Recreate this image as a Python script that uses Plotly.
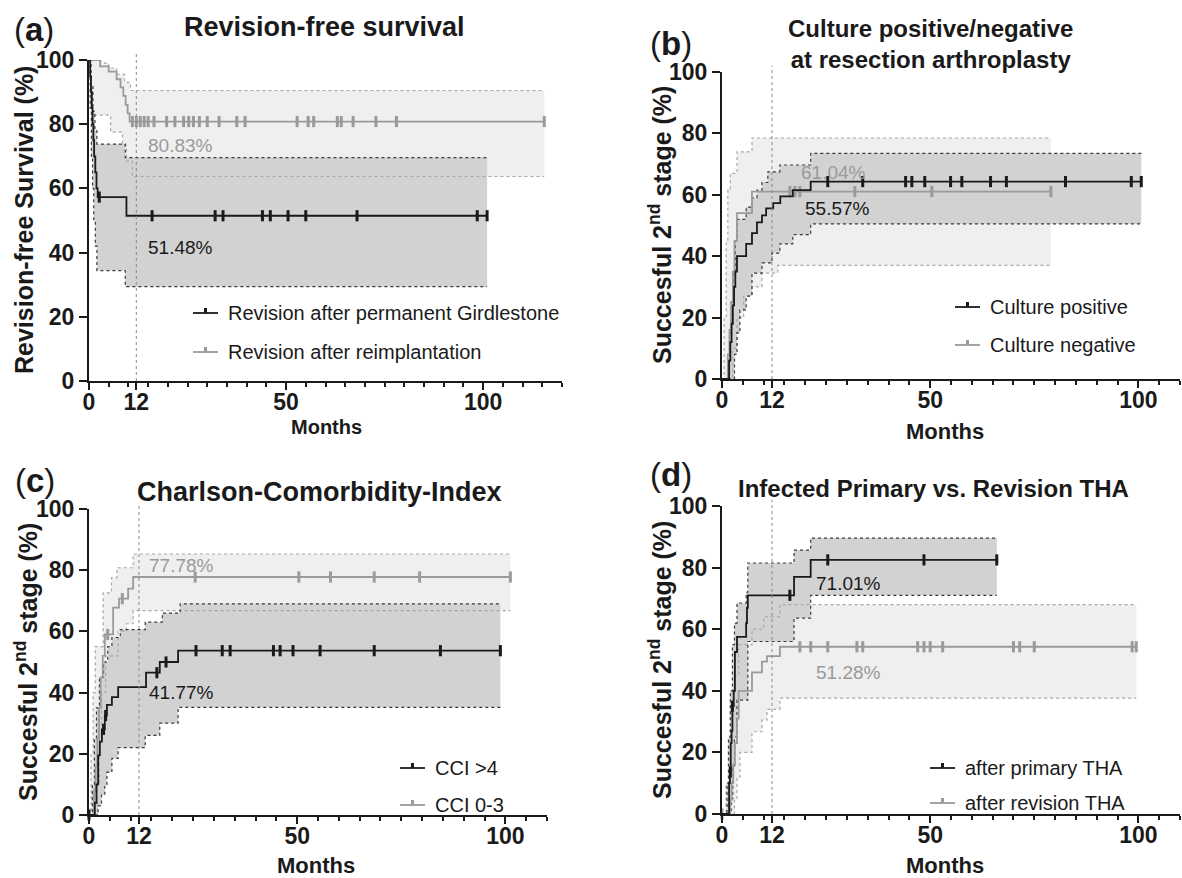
import plotly.graph_objects as go

W, H = 1182, 878
FONT = "Liberation Sans, Arial, Helvetica, sans-serif"
BLACK = "#1a1a1a"
GRAY = "#9a9a9a"
DARK_FILL = "#d2d2d2"
LIGHT_FILL = "#efefef"

# ---------------- Panel (a) Revision-free survival ----------------
a_black_t = [0, 0.3, 0.5, 0.7, 0.9, 1.1, 1.3, 1.6, 1.9, 2.2, 9.5]
a_black_s = [100, 95, 90, 85, 80, 75, 70, 65, 60, 57.3, 51.48]
a_black_end = 101
a_black_cens = [2.6, 16, 32, 34, 44, 46, 50.5, 55, 68, 98.5, 101]
a_black_hi_t = [0, 0.5, 1.0, 1.5, 2.0, 9.2]
a_black_hi_s = [100, 92, 84, 78, 73.8, 69.6]
a_black_lo_t = [0, 0.3, 0.6, 0.9, 1.2, 1.6, 2.0, 9.2]
a_black_lo_s = [100, 85, 70, 60, 50, 42, 34.4, 29.4]

a_gray_t = [0, 2.8, 5, 7, 8, 8.7, 9.3, 9.8, 10.3]
a_gray_s = [100, 98, 96.4, 94, 91.5, 88.8, 86, 83.4, 80.83]
a_gray_end = 115.5
a_gray_cens = [11, 12, 13, 14, 15, 16.5, 19.7, 21.8, 24, 25.3, 26.5, 28, 30, 33,
               37.5, 39.6, 52.8, 55.6, 57, 63, 64, 67, 72.8, 78, 115.5]
a_gray_hi_t = [0, 3, 5, 7, 9, 10.5]
a_gray_hi_s = [100, 99, 97.5, 95.5, 93, 90.5]
a_gray_lo_t = [0, 0.5, 0.9, 5.5, 8.5, 9.5, 11]
a_gray_lo_s = [100, 90, 82.8, 77.5, 73.5, 68.5, 63.7]

# ---------------- Panel (b) Culture positive / negative ----------------
b_black_t = [0, 1.4, 1.7, 2.0, 2.3, 2.6, 2.9, 3.2, 3.6, 5.8, 7.2, 8.4, 9.6, 10.6, 12.3, 14.0, 17.0, 21.3]
b_black_s = [0, 0, 6, 12, 18, 24, 30, 35, 40, 44, 47.5, 51, 53.3, 55.57, 57.3, 59.5, 61.5, 64.3]
b_black_end = 100.7
b_black_cens = [25.4, 33.8, 44.1, 45.6, 48.7, 54.9, 57.6, 64.5, 68.3, 82.5, 98.3, 100.7]
b_black_hi_t = [0, 1.4, 1.8, 2.2, 2.7, 3.2, 3.6, 5.8, 7.2, 8.4, 9.6, 11.0, 13.9, 21.3]
b_black_hi_s = [0, 0, 15, 25, 35, 45, 52, 56, 59, 61.5, 64, 67.5, 69.7, 73.5]
b_black_lo_t = [0, 2.0, 3.0, 3.6, 4.3, 5.8, 7.2, 9.6, 12.0, 13.9, 17.0, 21.3]
b_black_lo_s = [0, 0, 8, 15, 22.5, 27, 34.5, 37.8, 41, 44, 47, 50.5]

b_gray_t = [0, 1.0, 1.4, 1.8, 2.2, 2.6, 3.0, 3.6, 7.2]
b_gray_s = [0, 0, 8, 16, 25, 35, 45, 54, 61.04]
b_gray_end = 79
b_gray_cens = [16.3, 17.5, 18.7, 31.9, 50.4, 79]
b_gray_hi_t = [0, 0.5, 1.0, 1.4, 2.0, 3.6, 7.2]
b_gray_hi_s = [0, 20, 45, 62, 67, 74, 78.5]
b_gray_lo_t = [0, 1.2, 2.5, 3.6, 5.2, 7.2, 9.6, 13.4]
b_gray_lo_s = [0, 0, 10, 20, 27, 30, 34.5, 37]

# ---------------- Panel (c) Charlson-Comorbidity-Index ----------------
c_black_t = [0, 1.4, 1.8, 2.2, 2.6, 3.1, 3.8, 4.3, 5.5, 7.0, 13.7, 17.0, 21.4]
c_black_s = [0, 4, 10, 19.5, 24, 28, 32.5, 36, 38.5, 41.77, 46.5, 50, 53.7]
c_black_end = 98.8
c_black_cens = [0, 3.5, 4.0, 16.3, 18.5, 25.7, 32, 33.9, 44.3, 45.9, 49, 55.5, 68.5, 84.4, 98.8]
c_black_hi_t = [0, 0.8, 1.3, 1.8, 2.5, 3.5, 4.5, 5.5, 7.5, 13.5, 17.6, 21.9]
c_black_hi_s = [0, 10, 25, 35, 45, 50, 55, 58, 60.6, 63, 66, 69]
c_black_lo_t = [0, 1.5, 2.2, 3.0, 3.8, 4.3, 5.5, 7.0, 13.5, 17.0, 21.4]
c_black_lo_s = [0, 0, 3, 6.5, 10, 14, 18.5, 22, 26, 30, 35.2]

c_gray_t = [0, 0.8, 1.2, 1.6, 2.0, 2.4, 2.8, 3.3, 3.8, 5.8, 7.2, 9.4, 10.6]
c_gray_s = [0, 0, 8, 16, 25, 35, 45, 52, 59, 67.8, 70.7, 74, 77.78]
c_gray_end = 101.2
c_gray_cens = [4.5, 8.0, 25.5, 50.4, 58, 68.5, 79.4, 101.2]
c_gray_hi_t = [0, 0.5, 1.0, 1.5, 3.4, 5.4, 6.7, 10.6]
c_gray_hi_s = [0, 20, 40, 55, 72.6, 77.5, 80.8, 85.3]
c_gray_lo_t = [0, 1.5, 2.0, 2.5, 3.0, 4.0, 7.0, 9.0, 10.6]
c_gray_lo_s = [0, 0, 10, 25, 40, 52, 60, 62.5, 66.8]

# ---------------- Panel (d) Infected Primary vs. Revision THA ----------------
d_black_t = [0, 1.5, 1.7, 1.9, 2.1, 2.3, 2.5, 2.8, 3.1, 3.6, 5.8, 6.0, 6.2, 17.3, 21.3]
d_black_s = [0, 0, 10, 13.6, 23, 27, 35, 40, 52.6, 57.5, 62, 66.9, 71.01, 77, 82.5]
d_black_end = 66
d_black_cens = [2.0, 2.5, 16.3, 25.4, 48.5, 66]
d_black_hi_t = [0, 1.2, 1.6, 2.0, 2.5, 3.0, 3.6, 5.8, 6.2, 17.3, 21.3]
d_black_hi_s = [0, 10, 25, 40, 55, 62, 68.5, 72, 81.5, 85.7, 89.6]
d_black_lo_t = [0, 1.8, 2.2, 2.6, 3.0, 3.6, 6.2, 17.3, 21.3]
d_black_lo_s = [0, 0, 5, 15, 25, 37, 56, 63.6, 71]

d_gray_t = [0, 1.5, 1.9, 2.3, 2.7, 3.1, 3.6, 4.0, 7.2, 9.6, 10.8, 13.9]
d_gray_s = [0, 0, 4.5, 10, 16, 23, 31, 40, 46, 49.5, 51.28, 54.3]
d_gray_end = 99.5
d_gray_cens = [0, 18.7, 21.3, 25.4, 32.4, 33.8, 47, 48.5, 50, 53, 70, 71.5, 75, 98.5, 99.5]
d_gray_hi_t = [0, 1.0, 1.5, 2.0, 3.0, 4.0, 7.2, 10.0, 13.9]
d_gray_hi_s = [0, 10, 25, 35, 45, 55, 60, 64, 68]
d_gray_lo_t = [0, 2.5, 3.0, 3.6, 4.3, 7.2, 9.6, 10.8, 13.9]
d_gray_lo_s = [0, 0, 5, 12, 20, 26.7, 30.5, 34, 37.6]

x_tickvals = [0, 12, 50, 100]
x_ticktext = ["0", "12", "50", "100"]
y_tickvals = [0, 20, 40, 60, 80, 100]

titles = ["Revision-free survival",
          "Culture positive/negative<br>at resection arthroplasty",
          "Charlson-Comorbidity-Index",
          "Infected Primary vs. Revision THA"]
letters = ["a", "b", "c", "d"]
legend_labels = [["Revision after permanent Girdlestone", "Revision after reimplantation"],
                 ["Culture positive", "Culture negative"],
                 ["CCI >4", "CCI 0-3"],
                 ["after primary THA", "after revision THA"]]
y_titles = ["Revision-free Survival (%)", "Succesful 2<sup>nd</sup> stage (%)",
            "Succesful 2<sup>nd</sup> stage (%)", "Succesful 2<sup>nd</sup> stage (%)"]
pct_labels = [("80.83%", "51.48%"), ("61.04%", "55.57%"), ("77.78%", "41.77%"), ("51.28%", "71.01%")]


def steps(t, s, end):
    xs, ys = [], []
    for i in range(len(t)):
        if i > 0:
            xs.append(t[i]); ys.append(s[i - 1])
        xs.append(t[i]); ys.append(s[i])
    xs.append(end); ys.append(s[-1])
    return xs, ys


def value_at(t, s, x):
    v = s[0]
    for ti, si in zip(t, s):
        if ti <= x:
            v = si
    return v


panels = [
    dict(black=(a_black_t, a_black_s, a_black_end, a_black_cens, a_black_hi_t, a_black_hi_s, a_black_lo_t, a_black_lo_s),
         gray=(a_gray_t, a_gray_s, a_gray_end, a_gray_cens, a_gray_hi_t, a_gray_hi_s, a_gray_lo_t, a_gray_lo_s)),
    dict(black=(b_black_t, b_black_s, b_black_end, b_black_cens, b_black_hi_t, b_black_hi_s, b_black_lo_t, b_black_lo_s),
         gray=(b_gray_t, b_gray_s, b_gray_end, b_gray_cens, b_gray_hi_t, b_gray_hi_s, b_gray_lo_t, b_gray_lo_s)),
    dict(black=(c_black_t, c_black_s, c_black_end, c_black_cens, c_black_hi_t, c_black_hi_s, c_black_lo_t, c_black_lo_s),
         gray=(c_gray_t, c_gray_s, c_gray_end, c_gray_cens, c_gray_hi_t, c_gray_hi_s, c_gray_lo_t, c_gray_lo_s)),
    dict(black=(d_black_t, d_black_s, d_black_end, d_black_cens, d_black_hi_t, d_black_hi_s, d_black_lo_t, d_black_lo_s),
         gray=(d_gray_t, d_gray_s, d_gray_end, d_gray_cens, d_gray_hi_t, d_gray_hi_s, d_gray_lo_t, d_gray_lo_s)),
]

# layout geometry in pixels (left, right, top, bottom) and x-range
geo = [
    dict(l=89, r=562, t=60, b=381, xr=120),
    dict(l=722, r=1180, t=72, b=379, xr=110),
    dict(l=89, r=547, t=509, b=815, xr=110),
    dict(l=722, r=1180, t=506, b=814, xr=110),
]
# annotation pixel positions
title_pos = [(325, 27), (930, 44), (319, 492), (933, 488)]
title_size = [27, 24, 27, 24]
letter_pos = [(34, 29), (671, 43), (35, 480), (671, 474)]
ytitle_pos = [(24, 220), (660, 225), (26, 662), (660, 660)]
xtitle_pos = [(326, 427), (945, 432), (316, 865), (945, 865)]
pct_pos = [((180, 146), (180, 248)), ((833, 173), (837, 208)),
           ((181, 565), (181, 692)), ((848, 672), (848, 583))]
legend_pos = [(193, 313, 352), (955, 307, 345), (400, 768, 805), (930, 768, 803)]

fig = go.Figure()
layout = dict(width=W, height=H, margin=dict(l=0, r=0, t=0, b=0, pad=0), autosize=False,
              paper_bgcolor="white", plot_bgcolor="rgba(0,0,0,0)", showlegend=False,
              font=dict(family=FONT, color=BLACK))
annotations = []
shapes = []


def px(x):
    return x / W


def py(y):
    return 1 - y / H


for i, (p, g) in enumerate(zip(panels, geo)):
    n = "" if i == 0 else str(i + 1)
    xa, ya = "x" + n, "y" + n
    # fills
    for key, fill in (("gray", LIGHT_FILL), ("black", DARK_FILL)):
        t, s, end, cens, ht, hs, lt, ls = p[key]
        ux, uy = steps(ht, hs, end)
        lx, ly = steps(lt, ls, end)
        fig.add_trace(go.Scatter(x=ux + lx[::-1], y=uy + ly[::-1], fill="toself", fillcolor=fill,
                                 mode="none", xaxis=xa, yaxis=ya, hoverinfo="skip"))
    # dotted borders
    for key, col in (("gray", "#a8a8a8"), ("black", "#3a3a3a")):
        t, s, end, cens, ht, hs, lt, ls = p[key]
        for bt, bs in ((ht, hs), (lt, ls)):
            bx, by = steps(bt, bs, end)
            fig.add_trace(go.Scatter(x=bx, y=by, mode="lines", line=dict(color=col, width=1.2, dash="dot"),
                                     xaxis=xa, yaxis=ya, hoverinfo="skip", cliponaxis=False))
    # survival lines + censor marks
    for key, col in (("gray", GRAY), ("black", BLACK)):
        t, s, end, cens, ht, hs, lt, ls = p[key]
        sx, sy = steps(t, s, end)
        fig.add_trace(go.Scatter(x=sx, y=sy, mode="lines", line=dict(color=col, width=1.8),
                                 xaxis=xa, yaxis=ya, cliponaxis=False))
        fig.add_trace(go.Scatter(x=cens, y=[value_at(t, s, c) for c in cens], mode="markers",
                                 marker=dict(symbol="line-ns", size=8, line=dict(color=col, width=3)),
                                 xaxis=xa, yaxis=ya, cliponaxis=False))
    # axes
    layout["xaxis" + n] = dict(domain=[px(g["l"]), px(g["r"])], range=[0, g["xr"]], anchor=ya,
                               automargin=False, ticklabelstandoff=-8,
                               showline=True, linecolor=BLACK, linewidth=2, ticks="outside", ticklen=7,
                               tickwidth=2, tickcolor=BLACK, tickvals=x_tickvals, ticktext=x_ticktext,
                               tickfont=dict(family=FONT, size=23, color=BLACK, weight="bold"),
                               minor=dict(dtick=5, tick0=0, ticks="outside", ticklen=4, tickwidth=1.5,
                                          tickcolor=BLACK),
                               showgrid=False, zeroline=False, fixedrange=True)
    layout["yaxis" + n] = dict(domain=[py(g["b"]), py(g["t"])], range=[0, 100], anchor=xa,
                               automargin=False,
                               showline=True, linecolor=BLACK, linewidth=2, ticks="outside", ticklen=8,
                               tickwidth=2, tickcolor=BLACK, tickvals=y_tickvals,
                               tickfont=dict(family=FONT, size=23, color=BLACK, weight="bold"),
                               showgrid=False, zeroline=False, fixedrange=True)
    # 12-month reference line
    shapes.append(dict(type="line", xref=xa, yref=ya + " domain", x0=12, x1=12, y0=0, y1=1.02,
                       line=dict(color="#8a8a8a", width=1, dash="dot")))
    # texts
    tx, ty = title_pos[i]
    annotations.append(dict(text="<b>" + titles[i].replace("<br>", "</b><br><b>") + "</b>", x=px(tx), y=py(ty),
                            xref="paper", yref="paper", showarrow=False,
                            font=dict(size=title_size[i], color=BLACK),
                            xanchor="center", yanchor="middle"))
    lx_, ly_ = letter_pos[i]
    annotations.append(dict(text="(<b>" + letters[i] + "</b>)", x=px(lx_), y=py(ly_), xref="paper", yref="paper",
                            showarrow=False, font=dict(size=33, color=BLACK), xanchor="center", yanchor="middle"))
    yx, yy = ytitle_pos[i]
    annotations.append(dict(text="<b>" + y_titles[i] + "</b>", x=px(yx), y=py(yy), xref="paper", yref="paper",
                            showarrow=False, textangle=-90, font=dict(size=25, color=BLACK),
                            xanchor="center", yanchor="middle"))
    mx, my = xtitle_pos[i]
    annotations.append(dict(text="<b>Months</b>", x=px(mx), y=py(my), xref="paper", yref="paper",
                            showarrow=False, font=dict(size=20 if i == 0 else 22, color=BLACK),
                            xanchor="center", yanchor="middle"))
    (gx, gy), (bx_, by_) = pct_pos[i]
    annotations.append(dict(text=pct_labels[i][0], x=px(gx), y=py(gy), xref="paper", yref="paper",
                            showarrow=False, xanchor="center", yanchor="middle",
                            font=dict(size=19, color=GRAY)))
    annotations.append(dict(text=pct_labels[i][1], x=px(bx_), y=py(by_), xref="paper", yref="paper",
                            showarrow=False, xanchor="center", yanchor="middle",
                            font=dict(size=19, color=BLACK)))
    # legend
    lgx, lgy1, lgy2 = legend_pos[i]
    for lab, yy_, col in ((legend_labels[i][0], lgy1, BLACK), (legend_labels[i][1], lgy2, GRAY)):
        shapes.append(dict(type="line", xref="paper", yref="paper", x0=px(lgx), x1=px(lgx + 25),
                           y0=py(yy_), y1=py(yy_), line=dict(color=col, width=1.8)))
        shapes.append(dict(type="line", xref="paper", yref="paper", x0=px(lgx + 12.5), x1=px(lgx + 12.5),
                           y0=py(yy_), y1=py(yy_ - 5), line=dict(color=col, width=3)))
        annotations.append(dict(text=lab, x=px(lgx + 33), y=py(yy_), xref="paper", yref="paper",
                                showarrow=False, xanchor="left", yanchor="middle",
                                font=dict(size=20, color=BLACK)))

layout["annotations"] = annotations
layout["shapes"] = shapes
fig.update_layout(**layout)
fig.write_html("out.html", config={"displayModeBar": False},
               post_script="document.body.style.margin='0px';document.body.style.overflow='hidden';")
